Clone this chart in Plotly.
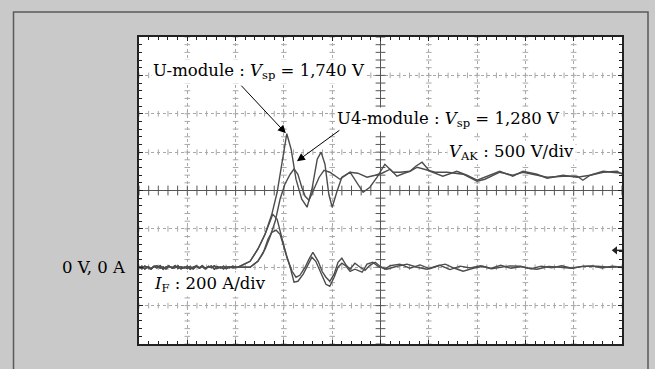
import plotly.graph_objects as go

# ---------------------------------------------------------------------------
# Scope capture: diode turn-off, two modules.
# Time in screen divisions (10 div across), V_AK in volts (500 V/div),
# I_F in amps (200 A/div). Both channels share the same ground level.
# ---------------------------------------------------------------------------

t_base = [0.0, 0.06, 0.12, 0.19, 0.25, 0.31, 0.37, 0.44, 0.5, 0.56, 0.62,
          0.69, 0.75, 0.81, 0.87, 0.94, 1.0, 1.06, 1.12, 1.19, 1.25, 1.31,
          1.37, 1.44, 1.5, 1.56, 1.62, 1.69, 1.75, 1.81, 1.87, 1.94, 2.0]

# U-module, anode-cathode voltage
t_vu = t_base + [2.05, 2.30, 2.46, 2.61, 2.75, 2.86, 2.94, 3.00, 3.06, 3.15,
                 3.25, 3.37, 3.48, 3.58, 3.69, 3.77, 3.85, 3.93, 4.00, 4.10,
                 4.20, 4.37, 4.51, 4.64, 4.78, 4.93, 5.09, 5.26, 5.40, 5.61,
                 5.73, 5.86, 6.02, 6.29, 6.58, 6.79, 7.00, 7.27, 7.47, 7.74,
                 7.95, 8.24, 8.45, 8.78, 9.07, 9.34, 9.61, 9.79, 10.0]
v_u = [-10, 15, -22, 5, -18, 12, -8, 20, -25, 6, 15, -14, -4, 18, -20, 3,
       -15, 10, -22, 14, -6, 20, -12, -2, 16, -24, 8, -10, 14, -18, 6, -8, -5,
       0, 78, 235, 430, 690, 977, 1277, 1511, 1740, 1538,
       1147, 886, 782, 1016, 1407, 1500, 1342, 951, 782, 990,
       1173, 1238, 1108, 977, 1042, 1173, 1342, 1238, 1238, 1251,
       1316, 1368, 1251, 1186, 1251, 1199, 1134, 1199, 1251, 1186,
       1251, 1212, 1160, 1199, 1173, 1199, 1251, 1238, 1225]

# U4-module, anode-cathode voltage
t_vu4 = t_base + [2.30, 2.46, 2.61, 2.71, 2.82, 2.92, 3.02, 3.13, 3.21, 3.29,
                  3.37, 3.44, 3.52, 3.62, 3.73, 3.83, 3.95, 4.16, 4.37, 4.53,
                  4.72, 4.89, 5.03, 5.20, 5.34, 5.49, 5.61, 5.76, 5.92, 6.13,
                  6.38, 6.71, 7.00, 7.16, 7.47, 7.74, 7.95, 8.24, 8.45, 8.78,
                  9.07, 9.19, 9.34, 9.61, 9.90, 10.0]
v_u4 = [8, -20, 14, -6, -24, 10, 18, -12, 4, -22, 12, -4, 20, -16, 6, -10,
        14, -26, 2, 16, -12, 8, -20, 12, -6, 18, -14, 4, -22, 10, -8, 12, 4,
        0, 78, 235, 391, 599, 886, 1081, 1212, 1280, 1212,
        1042, 925, 873, 1016, 1173, 1264, 1238, 1147, 1238, 1225,
        1173, 1199, 1225, 1277, 1186, 1225, 1251, 1303, 1277, 1238,
        1238, 1212, 1121, 1147, 1238, 1199, 1238, 1199, 1173, 1186,
        1186, 1134, 1199, 1238, 1251, 1212]

# U-module, forward current
t_iu = t_base + [2.05, 2.30, 2.46, 2.61, 2.71, 2.77, 2.86, 2.96, 3.06, 3.17,
                 3.25, 3.33, 3.44, 3.52, 3.60, 3.71, 3.79, 3.87, 3.95, 4.04,
                 4.12, 4.20, 4.29, 4.37, 4.47, 4.58, 4.68, 4.78, 4.89, 4.99,
                 5.09, 5.20, 5.40, 5.61, 5.82, 6.02, 6.23, 6.44, 6.65, 6.86,
                 7.07, 7.28, 7.49, 7.70, 7.91, 8.12, 8.33, 8.54, 8.75, 8.96,
                 9.17, 9.38, 9.59, 9.80, 10.0]
i_u = [-4, 6, -9, 3, -7, 5, -3, 8, -10, 2, 6, -5, -2, 7, -8, 1,
       -6, 4, -9, 5, -3, 8, -5, -1, 6, -10, 3, -4, 5, -7, 2, -3, -2,
       0, 31, 94, 172, 240, 276, 250, 146, 52, -21,
       -52, -42, 0, 42, 78, 31, -21, -52, -73, -36,
       26, 47, 10, -10, 21, 0, -16, 10, 26, 5,
       -10, 8, 16, -5, 12, -8, 10, -12, 6, -4,
       8, -6, 10, -5, 4, -8, 6, -3, 8, -5,
       3, 7, -4, 6, 0]

# U4-module, forward current
t_iu4 = t_base + [2.30, 2.46, 2.57, 2.67, 2.75, 2.84, 2.92, 3.02, 3.13, 3.21,
                  3.29, 3.40, 3.50, 3.58, 3.66, 3.77, 3.87, 3.95, 4.04, 4.12,
                  4.20, 4.29, 4.37, 4.47, 4.62, 4.72, 4.84, 4.95, 5.13, 5.34,
                  5.55, 5.76, 5.96, 6.15, 6.34, 6.52, 6.71, 6.92, 7.12, 7.30,
                  7.47, 7.68, 7.89, 8.06, 8.24, 8.48, 8.72, 8.95, 9.20, 9.48,
                  9.75, 10.0]
i_u4 = [3, -8, 6, -2, -10, 4, 7, -5, 2, -9, 5, -2, 8, -6, 3, -4,
        6, -10, 1, 7, -5, 3, -8, 5, -2, 7, -6, 2, -9, 4, -3, 5, 2,
        0, 31, 73, 146, 182, 193, 172, 94, 0, -78,
        -73, -36, 16, 52, 31, -36, -89, -99, -52, 0,
        21, 5, -21, -10, -26, 16, 26, 5, -10, 5,
        16, 0, -10, 6, 16, -4, -21, -6, 5, -8,
        0, 7, 5, -6, -10, 4, 0, -5, 6, 5,
        0, 2]

# Screen layout (graticule)
X_DIVS = 10
V_PER_DIV = 500
A_PER_DIV = 200
V_RANGE = [-2 * V_PER_DIV, 6 * V_PER_DIV]
I_RANGE = [-2 * A_PER_DIV, 6 * A_PER_DIV]
V_CENTER = (V_RANGE[0] + V_RANGE[1]) / 2
T_CENTER = X_DIVS / 2
TRIGGER_LEVEL = 220

W, H = 655, 369
M_L, M_R, M_T, M_B = 139, 33, 37, 25
PW, PH = W - M_L - M_R, H - M_T - M_B

TRACE = "#4d4d4d"
GRID = "#a8a8a8"
FRAME = "#222222"
FONT = dict(family="DejaVu Serif", size=16.5, color="black")

fig = go.Figure()

# graticule sub-division marks along the dotted grid lines
minor_t = [round(k * 0.2, 2) for k in range(0, 51)]
minor_v = [V_RANGE[0] + k * 100 for k in range(0, 41)]
for g in range(1, X_DIVS):
    if g == T_CENTER:
        continue
    fig.add_trace(go.Scatter(x=[g] * len(minor_v), y=minor_v, mode="markers",
                             marker=dict(symbol="line-ew", size=4,
                                         line=dict(width=1, color=GRID)),
                             hoverinfo="skip", showlegend=False))
for gv in range(V_RANGE[0] + V_PER_DIV, V_RANGE[1], V_PER_DIV):
    if gv == V_CENTER:
        continue
    fig.add_trace(go.Scatter(x=minor_t, y=[gv] * len(minor_t), mode="markers",
                             marker=dict(symbol="line-ns", size=4,
                                         line=dict(width=1, color=GRID)),
                             hoverinfo="skip", showlegend=False))

# centre cross with its tick marks
fig.add_trace(go.Scatter(x=minor_t, y=[V_CENTER] * len(minor_t), mode="lines+markers",
                         line=dict(color="#555", width=1),
                         marker=dict(symbol="line-ns", size=7,
                                     line=dict(width=1, color="#555")),
                         hoverinfo="skip", showlegend=False))
fig.add_trace(go.Scatter(x=[T_CENTER] * len(minor_v), y=minor_v, mode="lines+markers",
                         line=dict(color="#555", width=1),
                         marker=dict(symbol="line-ew", size=7,
                                     line=dict(width=1, color="#555")),
                         hoverinfo="skip", showlegend=False))

# measured waveforms
for tt, yy, ax in [(t_vu4, v_u4, "y"), (t_vu, v_u, "y"),
                   (t_iu4, i_u4, "y2"), (t_iu, i_u, "y2")]:
    fig.add_trace(go.Scatter(x=tt, y=yy, yaxis=ax, mode="lines",
                             line=dict(color=TRACE, width=1.4),
                             hoverinfo="skip", showlegend=False))

# trigger level indicator at the right edge
fig.add_trace(go.Scatter(x=[9.86, 10.0], y=[TRIGGER_LEVEL, TRIGGER_LEVEL], mode="lines",
                         line=dict(color=FRAME, width=1.5),
                         hoverinfo="skip", showlegend=False))
fig.add_trace(go.Scatter(x=[9.86], y=[TRIGGER_LEVEL], mode="markers",
                         marker=dict(symbol="triangle-left", size=7, color=FRAME),
                         hoverinfo="skip", showlegend=False))

axis_common = dict(showticklabels=False, showline=True, linecolor=FRAME,
                   linewidth=2, mirror="ticks", ticks="inside", ticklen=4,
                   tickcolor=FRAME, zeroline=False, showgrid=True,
                   gridcolor=GRID, griddash="dot", gridwidth=1, fixedrange=True)

fig.update_layout(
    width=W, height=H,
    margin=dict(l=M_L, r=M_R, t=M_T, b=M_B),
    paper_bgcolor="#c9c9c9",
    plot_bgcolor="white",
    font=FONT,
    xaxis=dict(range=[0, X_DIVS], dtick=1, tick0=0,
               minor=dict(dtick=0.2, ticks="inside", ticklen=3, tickcolor=FRAME,
                          showgrid=False),
               **axis_common),
    yaxis=dict(range=V_RANGE, dtick=V_PER_DIV, tick0=0,
               minor=dict(dtick=100, ticks="inside", ticklen=3, tickcolor=FRAME,
                          showgrid=False),
               **axis_common),
    yaxis2=dict(range=I_RANGE, overlaying="y", visible=False, fixedrange=True),
)

# outer frame of the figure panel
fig.add_shape(type="rect", xref="paper", yref="paper",
              x0=(13.5 - M_L) / PW, x1=(648 - M_L) / PW,
              y0=-0.3, y1=(M_T + PH - 12) / PH,
              line=dict(color="#5a5a5a", width=1.5), layer="below")

# labels
fig.add_annotation(x=0.25, y=2554, xref="x", yref="y", xanchor="left",
                   text="U-module : <i>V</i><sub>sp</sub> = 1,740 V",
                   showarrow=False, bgcolor="white", borderpad=1)
fig.add_annotation(x=4.06, y=1928, xref="x", yref="y", xanchor="left",
                   text="U4-module : <i>V</i><sub>sp</sub> = 1,280 V",
                   showarrow=False, bgcolor="white", borderpad=1)
fig.add_annotation(x=6.38, y=1498, xref="x", yref="y", xanchor="left",
                   text="<i>V</i><sub>AK</sub> : 500 V/div",
                   showarrow=False, bgcolor="white", borderpad=1)
fig.add_annotation(x=0.27, y=-221, xref="x", yref="y", xanchor="left",
                   text="<i>I</i><sub>F</sub> : 200 A/div",
                   showarrow=False, bgcolor="white", borderpad=1)
fig.add_annotation(x=(128 - M_L) / PW, y=0, xref="paper", yref="y",
                   xanchor="right", text="0 V, 0 A", showarrow=False)

# pointers to the overshoot peaks
fig.add_annotation(x=3.04, y=1746, xref="x", yref="y",
                   ax=2.09, ay=2385, axref="x", ayref="y",
                   text="", showarrow=True, arrowhead=2, arrowsize=1.6,
                   arrowwidth=1, arrowcolor="black")
fig.add_annotation(x=3.27, y=1381, xref="x", yref="y",
                   ax=4.18, ay=1798, axref="x", ayref="y",
                   text="", showarrow=True, arrowhead=2, arrowsize=1.6,
                   arrowwidth=1, arrowcolor="black")

fig.write_html("out.html")
